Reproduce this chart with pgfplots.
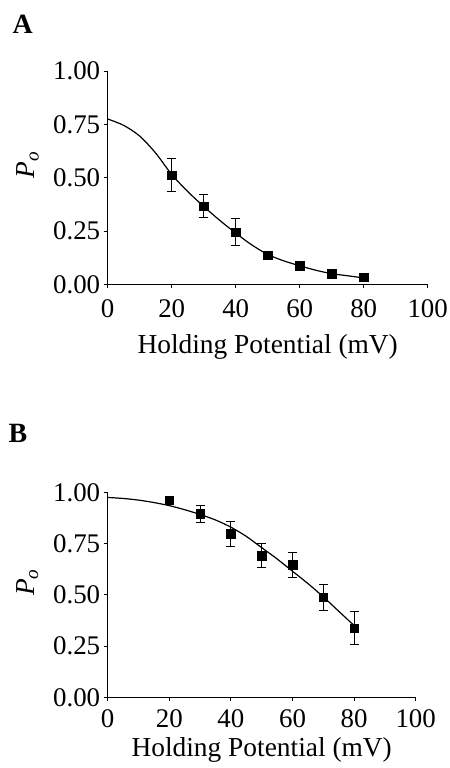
\documentclass[border=0pt]{standalone}
\usepackage{fontspec}
\setmainfont{Liberation Serif}
\usepackage{pgfplots}
\pgfplotsset{compat=1.18}

\pgfplotsset{
  po/.style={
    scale only axis,
    axis x line*=bottom,
    axis y line*=left,
    axis line style={-, line width=0.9bp},
    xmin=0, xmax=100,
    ymin=0, ymax=1,
    xtick={0,20,...,100},
    ytick={0,0.25,0.5,0.75,1},
    yticklabel style={/pgf/number format/.cd, fixed, fixed zerofill, precision=2},
    /pgf/number format/assume math mode=true,
    tick align=outside,
    major tick length=4bp,
    every tick/.style={black, line width=0.9bp},
    tick label style={font=\fontsize{27}{30}\selectfont},
    label style={font=\fontsize{27.5}{30}\selectfont},
    xticklabel shift=8bp,
    xlabel shift=10bp,
    ylabel style={at={(axis description cs:-0.215,0.56)}, anchor=south, inner sep=0pt},
    xlabel={Holding Potential (mV)},
    ylabel={\textit{P\textsubscript{o}}},
    clip=false,
  },
  fit/.style={smooth, line width=1.2bp, black, no marks},
  pts/.style={only marks, black, mark=square*, mark size=4.3bp,
    error bars/.cd, y dir=both, y explicit,
    error bar style={line width=0.9bp},
    error mark options={rotate=90, mark size=4.5bp, line width=0.9bp}},
}

\begin{document}
\begin{tikzpicture}
\useasboundingbox (0,0) rectangle (450bp,-768bp);

% panel A
\node[anchor=north west, font=\bfseries\fontsize{28}{30}\selectfont] at (9bp,-12bp) {A};
\begin{axis}[po, at={(107.7bp,-284.3bp)}, anchor=south west,
  width=320bp, height=213.3bp]
  \addplot[fit] coordinates {
    (0,0.775) (5,0.745) (10,0.695) (15,0.615) (20,0.515) (25,0.435)
    (30,0.365) (35,0.300) (40,0.240) (45,0.185) (50,0.140) (55,0.110)
    (60,0.087) (65,0.066) (70,0.050) (75,0.040) (80,0.030)
  };
  \addplot[pts] coordinates {
    (20,0.512) +- (0,0.078)
    (30,0.367) +- (0,0.053)
    (40,0.244) +- (0,0.063)
    (50,0.136) +- (0,0.0)
    (60,0.087) +- (0,0.0)
    (70,0.051) +- (0,0.0)
    (80,0.033) +- (0,0.0)
  };
\end{axis}

% panel B
\node[anchor=north west, font=\bfseries\fontsize{28}{30}\selectfont] at (5bp,-421bp) {B};
\begin{axis}[po, at={(107.7bp,-697.3bp)}, anchor=south west,
  width=308bp, height=205bp, xticklabel shift=5bp, xlabel shift=3bp,
  ylabel style={at={(axis description cs:-0.225,0.56)}}]
  \addplot[fit] coordinates {
    (0,0.975) (5,0.970) (10,0.962) (15,0.950) (20,0.935) (25,0.915)
    (30,0.892) (35,0.865) (40,0.830) (45,0.785) (50,0.730) (55,0.675)
    (60,0.615) (65,0.555) (70,0.490) (75,0.420) (80,0.350)
  };
  \addplot[pts] coordinates {
    (20,0.961) +- (0,0.0)
    (30,0.896) +- (0,0.041)
    (40,0.797) +- (0,0.061)
    (50,0.691) +- (0,0.058)
    (60,0.646) +- (0,0.060)
    (70,0.488) +- (0,0.063)
    (80,0.337) +- (0,0.080)
  };
\end{axis}
\end{tikzpicture}
\end{document}
